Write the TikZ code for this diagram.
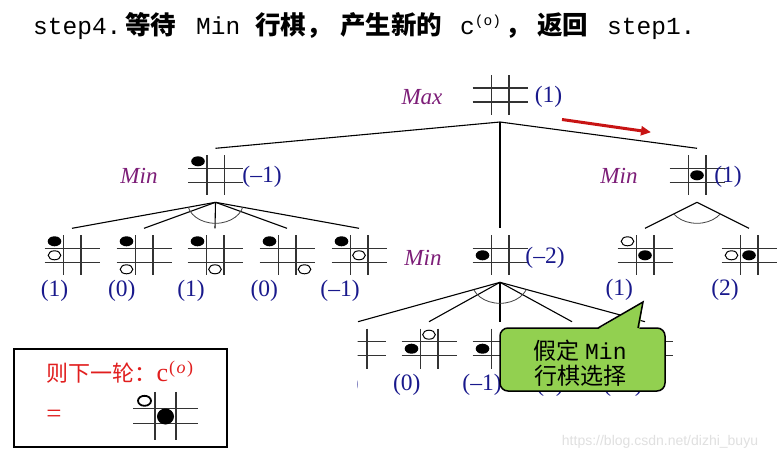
\documentclass[tikz,border=0pt]{standalone}
\usepackage{fontspec}
\setmainfont{Liberation Serif}
\newfontfamily\cjk{Noto Sans CJK SC}
\newfontfamily\monofnt{Liberation Mono}
\newfontfamily\wmfont{Liberation Sans}
\usetikzlibrary{calc,arrows.meta}

\definecolor{lblpurple}{RGB}{125,30,120}
\definecolor{valblue}{RGB}{25,25,140}
\definecolor{arrred}{RGB}{200,20,20}
\definecolor{callgreen}{RGB}{146,208,80}
\definecolor{boxred}{RGB}{225,30,30}

\tikzset{
  board/.style={rectangle, inner sep=0pt, outer sep=0pt},
  gridline/.style={line width=1.5pt, black!80},
  edge/.style={line width=1.1pt, black},
  arcline/.style={line width=0.8pt, black!75},
  lvl/.style={font=\fontsize{23}{24}\selectfont\itshape, text=lblpurple, inner sep=0pt},
  val/.style={font=\fontsize{23.5}{24}\selectfont, text=valblue, inner sep=0pt},
  bpiece/.style={fill=black},
  wpiece/.style={fill=white, draw=black, line width=1pt},
}

% name, center, cell w, cell h, W, H
\newcommand\tttgrid[6]{%
  \node[board, minimum width=#5pt, minimum height=#6pt] (#1) at (#2) {};
  \draw[gridline] ([xshift={-#3pt/2}]#1.north) -- ([xshift={-#3pt/2}]#1.south);
  \draw[gridline] ([xshift={#3pt/2}]#1.north) -- ([xshift={#3pt/2}]#1.south);
  \draw[gridline] ([yshift={#4pt/2}]#1.west) -- ([yshift={#4pt/2}]#1.east);
  \draw[gridline] ([yshift={-#4pt/2}]#1.west) -- ([yshift={-#4pt/2}]#1.east);
}
\newcommand\stdgrid[2]{\tttgrid{#1}{#2}{17.5}{14}{55}{40}}
\newcommand\blkpc[3]{\fill[bpiece] ($(#1)+(#2*17.5,#3*14)$) ellipse[x radius=6.8pt, y radius=5pt];}
\newcommand\whtpc[3]{\filldraw[wpiece] ($(#1)+(#2*17.5,#3*14)$) ellipse[x radius=6.3pt, y radius=4.5pt];}
\newcommand\andarc[3]{%
  \begin{scope}
    \clip (#1) -- ([yshift=7pt]#2.north) -- ([yshift=7pt]#3.north) -- cycle;
    \draw[arcline] (#1) ellipse[x radius=28pt, y radius=21pt];
  \end{scope}}

\begin{document}
\begin{tikzpicture}[x=1pt,y=-1pt]
\useasboundingbox (0,0) rectangle (781,461);
\fill[white] (0,0) rectangle (781,461);

% ---- title line
\node[anchor=base west, inner sep=0pt] (title) at (33,34) {%
  \fontsize{24.5}{28}\selectfont
  \makebox[92pt][l]{\monofnt step4.}%
  \makebox[71pt][l]{\cjk\bfseries\fontsize{25.5}{28}\selectfont 等待}%
  \makebox[59pt][l]{\monofnt Min}%
  \makebox[85pt][l]{\cjk\bfseries\fontsize{25.5}{28}\selectfont 行棋，}%
  \makebox[120pt][l]{\cjk\bfseries\fontsize{25.5}{28}\selectfont 产生新的}%
  \makebox[45pt][l]{\monofnt c\raisebox{9pt}{\fontsize{14.5}{15}\selectfont (o)}}%
  \makebox[32pt][l]{\cjk\bfseries\fontsize{25.5}{28}\selectfont ，}%
  \makebox[70pt][l]{\cjk\bfseries\fontsize{25.5}{28}\selectfont 返回}%
  {\monofnt step1.}};

% ---- boards
\stdgrid{r}{500,95}
\stdgrid{m1}{215.5,175.3}
\stdgrid{m2}{500,255.3}
\stdgrid{m3}{697,175.3}
\stdgrid{c1}{72,255.3}
\stdgrid{c2}{144,255.3}
\stdgrid{c3}{215,255.3}
\stdgrid{c4}{287,255.3}
\stdgrid{c5}{359,255.3}
\stdgrid{d1}{645,255.3}
\stdgrid{d2}{749,255.3}
\begin{scope}
  \clip (357.5,300) rectangle (781,400);
  \stdgrid{e1}{358,348.7}
  \node[val] (le1) at (345,385) {(1)};
\end{scope}
\stdgrid{e2}{429,348.7}
\stdgrid{e3}{500,348.7}
\stdgrid{e4}{572,348.7}
\stdgrid{e5}{645,348.7}

% pieces
\blkpc{m1}{-1}{-1}
\blkpc{m2}{-1}{0}
\blkpc{m3}{0}{0}
\blkpc{c1}{-1}{-1}\whtpc{c1}{-1}{0}
\blkpc{c2}{-1}{-1}\whtpc{c2}{-1}{1}
\blkpc{c3}{-1}{-1}\whtpc{c3}{0}{1}
\blkpc{c4}{-1}{-1}\whtpc{c4}{1}{1}
\blkpc{c5}{-1}{-1}\whtpc{c5}{0}{0}
\whtpc{d1}{-1}{-1}\blkpc{d1}{0}{0}
\whtpc{d2}{-1}{0}\blkpc{d2}{0}{0}
\blkpc{e2}{-1}{0}\whtpc{e2}{0}{-1}
\blkpc{e3}{-1}{0}

% ---- level labels and values
\node[lvl] (lmax) at (422,97) {Max};
\node[val] (vr) at (548.5,97) {(1)};
\node[lvl] (lm1) at (139,176) {Min};
\node[val] (vm1) at (262,177) {(–1)};
\node[lvl] (lm3) at (619,176) {Min};
\node[val] (vm3) at (728,177) {(1)};
\node[lvl] (lm2) at (423,258) {Min};
\node[val] (vm2) at (545,258) {(–2)};
\node[val] (vc1) at (54.5,291) {(1)};
\node[val] (vc2) at (121.7,291) {(0)};
\node[val] (vc3) at (191,291) {(1)};
\node[val] (vc4) at (264.3,291) {(0)};
\node[val] (vc5) at (340,291) {(–1)};
\node[val] (vd1) at (619.3,290) {(1)};
\node[val] (vd2) at (725,290) {(2)};
\node[val] (ve2) at (406.7,385) {(0)};
\node[val] (ve3) at (482,385) {(–1)};
\node[val] (ve4) at (550,386) {(1)};
\node[val] (ve5) at (623,386) {(–1)};

% ---- edges
\coordinate (ra) at ([yshift=-7pt]r.south);
\foreach \t in {m1,m2,m3} \draw[edge] (ra) -- ([yshift=7pt]\t.north);
\coordinate (a1) at ([yshift=-7pt]m1.south);
\foreach \t in {c1,c2,c3,c4,c5} \draw[edge] (a1) -- ([yshift=7pt]\t.north);
\coordinate (a3) at ([yshift=-7pt]m3.south);
\foreach \t in {d1,d2} \draw[edge] (a3) -- ([yshift=7pt]\t.north);
\coordinate (a2) at ([yshift=-7pt]m2.south);
\foreach \t in {e1,e2,e3,e4,e5} \draw[edge] (a2) -- ([yshift=7pt]\t.north);
\andarc{a1}{c1}{c5}
\andarc{a3}{d1}{d2}
\andarc{a2}{e1}{e5}

% ---- red arrow
\coordinate (ar1) at (562,119.5);
\coordinate (ar2) at (651,132.2);
\draw[arrred, line width=3pt, -{Triangle[length=10pt,width=9pt]}] (ar1) -- (ar2);

% ---- callout
\node[draw=black, line width=1.5pt, fill=callgreen, rounded corners=8pt,
      minimum width=165pt, minimum height=63pt, inner sep=0pt] (co) at (582.5,359.5) {};
\coordinate (ptip) at (643,302);
\fill[callgreen] (597,329.8) -- (ptip) -- (639.3,329.8) -- cycle;
\draw[line width=1.5pt, line join=miter] (598,328) -- (ptip) -- (638,328);
\node[inner sep=0pt, align=center, font=\fontsize{23}{24.5}\selectfont] (cotext) at (580,363)
  {{\cjk 假定} {\monofnt Min}\\{\cjk 行棋选择}};

% ---- result box
\node[draw=black, line width=2pt, minimum width=213pt, minimum height=98pt, inner sep=0pt] (box) at (120,398.3) {};
\node[anchor=west, text=boxred, inner sep=0pt] (boxtxt) at (46.5,371.7)
  {{\cjk\fontsize{22}{24}\selectfont 则下一轮：}{\fontsize{26}{27}\selectfont c\kern1pt\raisebox{8pt}{\fontsize{18}{19}\selectfont(\kern1.5pt\textit{o}\kern1.5pt)}}};
\node[text=boxred, inner sep=0pt, font=\fontsize{27}{28}\selectfont] (eq) at (54,416) {=};
\tttgrid{cb}{165.5,415.8}{21}{15}{65}{48}
\filldraw[fill=white, draw=black, line width=1.8pt] (144.5,400.8) ellipse[x radius=6.5pt, y radius=5pt];
\fill[black] (165.5,416.5) ellipse[x radius=8.5pt, y radius=8pt];

% ---- watermark
\node[text=black!12, inner sep=0pt, font=\wmfont\fontsize{14}{16}\selectfont] (wm) at (660,441.7) {https://blog.csdn.net/dizhi\_buyu};
\end{tikzpicture}
\end{document}
